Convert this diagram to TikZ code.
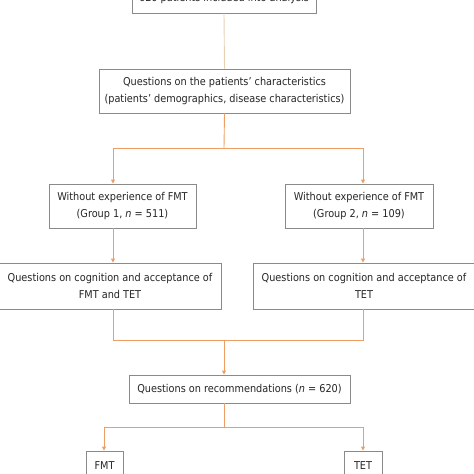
\documentclass[tikz,border=0pt]{standalone}
\usepackage{fontspec}
\setmainfont{DejaVu Sans Condensed}
\usetikzlibrary{arrows.meta}
\definecolor{boxgray}{HTML}{8A8A8A}
\definecolor{txtgray}{HTML}{262626}
\definecolor{conn}{HTML}{EE9E62}
\definecolor{connlight}{HTML}{E8CFB2}
\tikzset{
  fbox/.style={draw=boxgray, line width=0.9pt, inner sep=0pt, align=center,
    text=txtgray, font=\fontsize{10.8}{16.8}\selectfont, fill=white},
  link/.style={draw=conn, line width=0.9pt},
  arr/.style={link, -{Triangle[width=4pt,length=4pt]}},
}
\begin{document}
\begin{tikzpicture}[x=1pt,y=-1pt]
\useasboundingbox (0,0) rectangle (474,474);
\node[fbox, minimum width=184pt, minimum height=28pt] (top) at (224,-1) {620 patients included into analysis};
\node[fbox, minimum width=251pt, minimum height=44pt] (chars) at (224.5,91) {Questions on the patients' characteristics\\(patients’ demographics, disease characteristics)};
\node[fbox, minimum width=147pt, minimum height=44pt] (g1) at (122.5,206) {Without experience of FMT\\(Group 1, \textit{n} = 511)};
\node[fbox, minimum width=148pt, minimum height=44pt] (g2) at (359,206) {Without experience of FMT\\(Group 2, \textit{n} = 109)};
\node[fbox, minimum width=222pt, minimum height=46pt] (q1) at (110,286) {Questions on cognition and acceptance of\\FMT and TET};
\node[fbox, minimum width=222pt, minimum height=46pt] (q2) at (364,286) {Questions on cognition and acceptance of\\TET};
\node[fbox, minimum width=221pt, minimum height=28pt] (rec) at (239.5,389) {Questions on recommendations (\textit{n} = 620)};
\node[fbox, minimum width=37pt, minimum height=30pt] (fmt) at (104.5,466) {FMT};
\node[fbox, minimum width=38pt, minimum height=30pt] (tet) at (363,466) {TET};
\coordinate (c1) at (224,148);
\coordinate (cL) at (113,148);
\coordinate (cR) at (363,148);
\coordinate (c2) at (224,340);
\coordinate (c3) at (224,427);
\coordinate (fL) at (104,427);
\draw[draw=connlight, line width=0.9pt] (top.south) -- (chars.north);
\draw[link] (chars.south) -- (c1);
\draw[arr] (c1) -| (g1.north -| cL);
\draw[arr] (c1) -| (g2.north -| cR);
\draw[arr] (g1.south -| cL) -- (q1.north -| cL);
\draw[arr] (g2.south -| cR) -- (q2.north -| cR);
\draw[link] (q1.south -| cL) |- (c2);
\draw[link] (q2.south -| cR) |- (c2);
\draw[arr] (c2) -- (rec.north -| c2);
\draw[link] (rec.south -| c2) -- (c3);
\draw[arr] (c3) -| (fmt.north -| fL);
\draw[arr] (c3) -| (tet.north -| cR);
\end{tikzpicture}
\end{document}
